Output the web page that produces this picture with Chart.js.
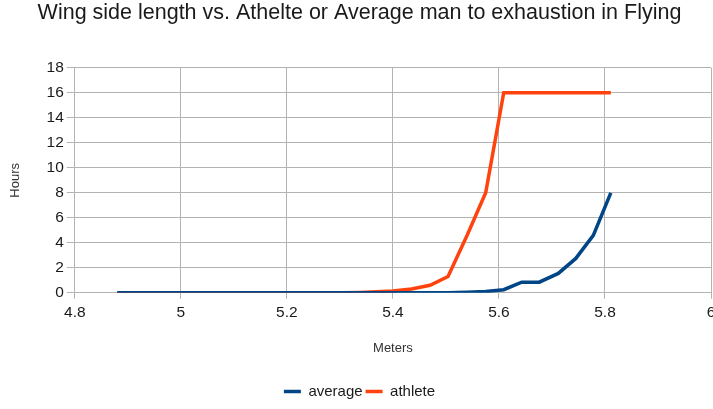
<!DOCTYPE html>
<html>
<head>
<meta charset="utf-8">
<script src="https://cdn.jsdelivr.net/npm/chart.js@4"></script>
<style>
  html, body { margin: 0; padding: 0; background: #fff; overflow: hidden; }
  #wrap { width: 724px; height: 409px; }
</style>
</head>
<body>
<div id="wrap"><canvas id="wing-chart"></canvas></div>
<script>
// Wing side length (m) for each run
const meters = [
    4.88, 4.913, 4.946, 4.978, 5.011, 5.044, 5.076, 5.109, 5.142, 5.174,
    5.207, 5.24, 5.272, 5.305, 5.338, 5.369, 5.40, 5.435, 5.47, 5.504,
    5.54, 5.575, 5.609, 5.643, 5.676, 5.712, 5.745, 5.778, 5.811
];
// Hours to exhaustion
const averageHours = [
    0, 0, 0, 0, 0, 0, 0, 0, 0, 0,
    0, 0, 0, 0, 0, 0, 0, 0, 0, 0,
    0.04, 0.1, 0.25, 0.85, 0.85, 1.55, 2.75, 4.6, 8
];
const athleteHours = [
    0, 0, 0, 0, 0, 0, 0, 0, 0, 0,
    0, 0, 0, 0, 0.03, 0.08, 0.15, 0.3, 0.6, 1.3,
    4.6, 8, 16, 16, 16, 16, 16, 16, 16
];
const xTicks = [4.8, 5, 5.2, 5.4, 5.6, 5.8, 6];
const yTicks = [0, 2, 4, 6, 8, 10, 12, 14, 16, 18];

const seriesNames = ['average', 'athlete'];
const seriesColors = ['#004586', '#ff420e'];

const gridColor = '#b3b3b3';
const textColor = '#1a1a1a';
const fontFamily = "'Liberation Sans', Arial, sans-serif";

function toPoints(values) {
    return values.map((v, i) => ({ x: meters[i], y: v }));
}

// Force ticks to the fixed lists
function fixedTicks(list) {
    return scale => { scale.ticks = list.map(v => ({ value: v })); };
}

const ctx = document.getElementById('wing-chart').getContext('2d');

new Chart(ctx, {
    type: 'scatter',
    data: {
        datasets: [averageHours, athleteHours].map((vals, i) => ({
            label: seriesNames[i],
            data: toPoints(vals),
            showLine: true,
            borderColor: seriesColors[i],
            backgroundColor: seriesColors[i],
            borderWidth: 3.5,
            pointRadius: 0,
            tension: 0
        }))
    },
    options: {
        responsive: true,
        maintainAspectRatio: false,
        animation: false,
        layout: { padding: { left: 8, right: 13, top: 0, bottom: 0 } },
        plugins: {
            title: {
                display: true,
                text: 'Wing side length vs. Athelte or Average man to exhaustion in Flying',
                color: textColor,
                font: { family: fontFamily, size: 21.5, weight: 'normal' },
                padding: { top: 0, bottom: 42 }
            },
            legend: {
                position: 'bottom',
                labels: {
                    color: textColor,
                    font: { family: fontFamily, size: 15 },
                    usePointStyle: true,
                    pointStyle: 'line',
                    pointStyleWidth: 17,
                    padding: 3
                }
            },
            tooltip: { enabled: false }
        },
        scales: {
            x: {
                type: 'linear',
                min: 4.8,
                max: 6,
                afterBuildTicks: fixedTicks(xTicks),
                grid: { color: gridColor, tickLength: 6 },
                border: { color: gridColor },
                ticks: {
                    color: textColor,
                    font: { family: fontFamily, size: 15.5 },
                    maxRotation: 0,
                    padding: 5,
                    callback: v => String(v)
                },
                title: {
                    display: true,
                    text: 'Meters',
                    color: '#333',
                    font: { family: fontFamily, size: 13 },
                    padding: { top: 13, bottom: 25 }
                }
            },
            y: {
                type: 'linear',
                min: 0,
                max: 18,
                afterBuildTicks: fixedTicks(yTicks),
                grid: { color: gridColor, tickLength: 8 },
                border: { color: gridColor },
                ticks: {
                    color: textColor,
                    font: { family: fontFamily, size: 15.5 },
                    padding: 3
                },
                title: {
                    display: true,
                    text: 'Hours',
                    color: '#333',
                    font: { family: fontFamily, size: 13 },
                    padding: { top: 0, bottom: 20 }
                }
            }
        }
    }
});
</script>
</body>
</html>
